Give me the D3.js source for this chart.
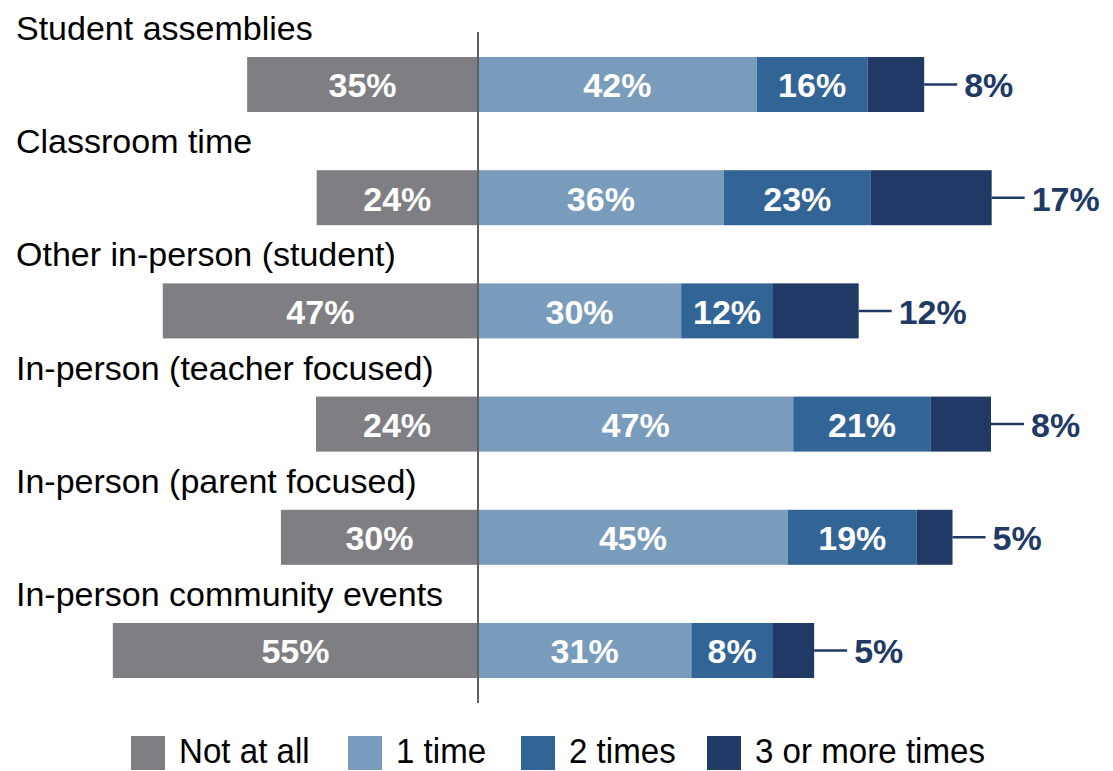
<!DOCTYPE html>
<html>
<head>
<meta charset="utf-8">
<script src="https://cdn.jsdelivr.net/npm/d3@7"></script>
<style>
  html, body { margin: 0; padding: 0; background: #ffffff; }
  svg { display: block; font-family: "Liberation Sans", Arial, Helvetica, sans-serif; }
</style>
</head>
<body>
<svg id="chart" width="1113" height="771"></svg>
<script>
// ---- Data (percent of respondents) ----
const categories = [
  "Student assemblies",
  "Classroom time",
  "Other in-person (student)",
  "In-person (teacher focused)",
  "In-person (parent focused)",
  "In-person community events"
];
const seriesNames = ["Not at all", "1 time", "2 times", "3 or more times"];
// bar lengths as drawn
const notAtAll  = [34.2, 23.9, 46.7, 24.0, 29.2, 54.1];
const oneTime   = [41.3, 36.4, 30.1, 46.7, 45.9, 31.6];
const twoTimes  = [16.4, 21.8, 13.6, 20.4, 19.1, 12.1];
const threePlus = [8.4, 17.9, 12.7, 8.9, 5.3, 6.1];
// printed labels
const notAtAllLabels  = ["35%", "24%", "47%", "24%", "30%", "55%"];
const oneTimeLabels   = ["42%", "36%", "30%", "47%", "45%", "31%"];
const twoTimesLabels  = ["16%", "23%", "12%", "21%", "19%", "8%"];
const threePlusLabels = ["8%", "17%", "12%", "8%", "5%", "5%"];

const colors = ["#7f7f83", "#7a9cbc", "#336496", "#213965"];

// ---- Layout ----
const svg = d3.select("#chart");
const zeroX = 478;
const pxPerPct = 6.75;
const x = d3.scaleLinear().domain([0, 100]).range([zeroX, zeroX + 100 * pxPerPct]);

const y = d3.scaleBand()
  .domain(categories)
  .range([-1.2, 736.2])
  .paddingInner(0.514)
  .paddingOuter(0.514);

const bw = y.bandwidth();

// build segments
const rows = categories.map((c, i) => {
  const segs = [];
  segs.push({ s: 0, x0: -notAtAll[i], x1: 0, label: notAtAllLabels[i] });
  let acc = 0;
  [[oneTime, oneTimeLabels], [twoTimes, twoTimesLabels], [threePlus, threePlusLabels]].forEach(([vals, labs], k) => {
    segs.push({ s: k + 1, x0: acc, x1: acc + vals[i], label: labs[i] });
    acc += vals[i];
  });
  return { cat: c, segs, end: acc, outer: threePlusLabels[i] };
});

// category labels
svg.append("g").selectAll("text")
  .data(categories)
  .join("text")
  .attr("x", 16)
  .attr("y", d => y(d) - 17)
  .attr("font-size", 34)
  .attr("fill", "#000")
  .text(d => d);

// bars
const rowG = svg.append("g").selectAll("g")
  .data(rows)
  .join("g")
  .attr("transform", d => `translate(0,${y(d.cat)})`);

rowG.selectAll("rect")
  .data(d => d.segs)
  .join("rect")
  .attr("x", d => x(d.x0))
  .attr("width", d => x(d.x1) - x(d.x0))
  .attr("y", 0)
  .attr("height", bw)
  .attr("fill", d => colors[d.s]);

// inner labels (all but the 3+ segment)
rowG.selectAll("text.inner")
  .data(d => d.segs.filter(s => s.s < 3))
  .join("text")
  .attr("class", "inner")
  .attr("x", d => (x(d.x0) + x(d.x1)) / 2)
  .attr("y", bw / 2 + 13)
  .attr("text-anchor", "middle")
  .attr("font-size", 34)
  .attr("font-weight", "bold")
  .attr("fill", "#ffffff")
  .text(d => d.label);

// leader line + outer label for 3+ segment
rowG.append("line")
  .attr("x1", d => x(d.end))
  .attr("x2", d => x(d.end) + 33)
  .attr("y1", bw / 2)
  .attr("y2", bw / 2)
  .attr("stroke", colors[3])
  .attr("stroke-width", 2.5);

rowG.append("text")
  .attr("x", d => x(d.end) + 40)
  .attr("y", bw / 2 + 13)
  .attr("font-size", 34)
  .attr("font-weight", "bold")
  .attr("fill", colors[3])
  .text(d => d.outer);

// zero axis line
svg.append("line")
  .attr("x1", x(0)).attr("x2", x(0))
  .attr("y1", 32).attr("y2", 703)
  .attr("stroke", "#606060")
  .attr("stroke-width", 2);

// legend
const legendOffsets = [0, 217, 390, 576];
const legend = svg.append("g").attr("transform", "translate(131,736)");
const squish = 0.92;
seriesNames.forEach((name, i) => {
  const g = legend.append("g").attr("transform", `translate(${legendOffsets[i]},0)`);
  g.append("rect").attr("width", 34).attr("height", 34).attr("fill", colors[i]);
  g.append("text")
    .attr("transform", `translate(48,27) scale(${squish},1)`)
    .attr("font-size", 36)
    .attr("fill", "#000")
    .text(name);
});
</script>
</body>
</html>
